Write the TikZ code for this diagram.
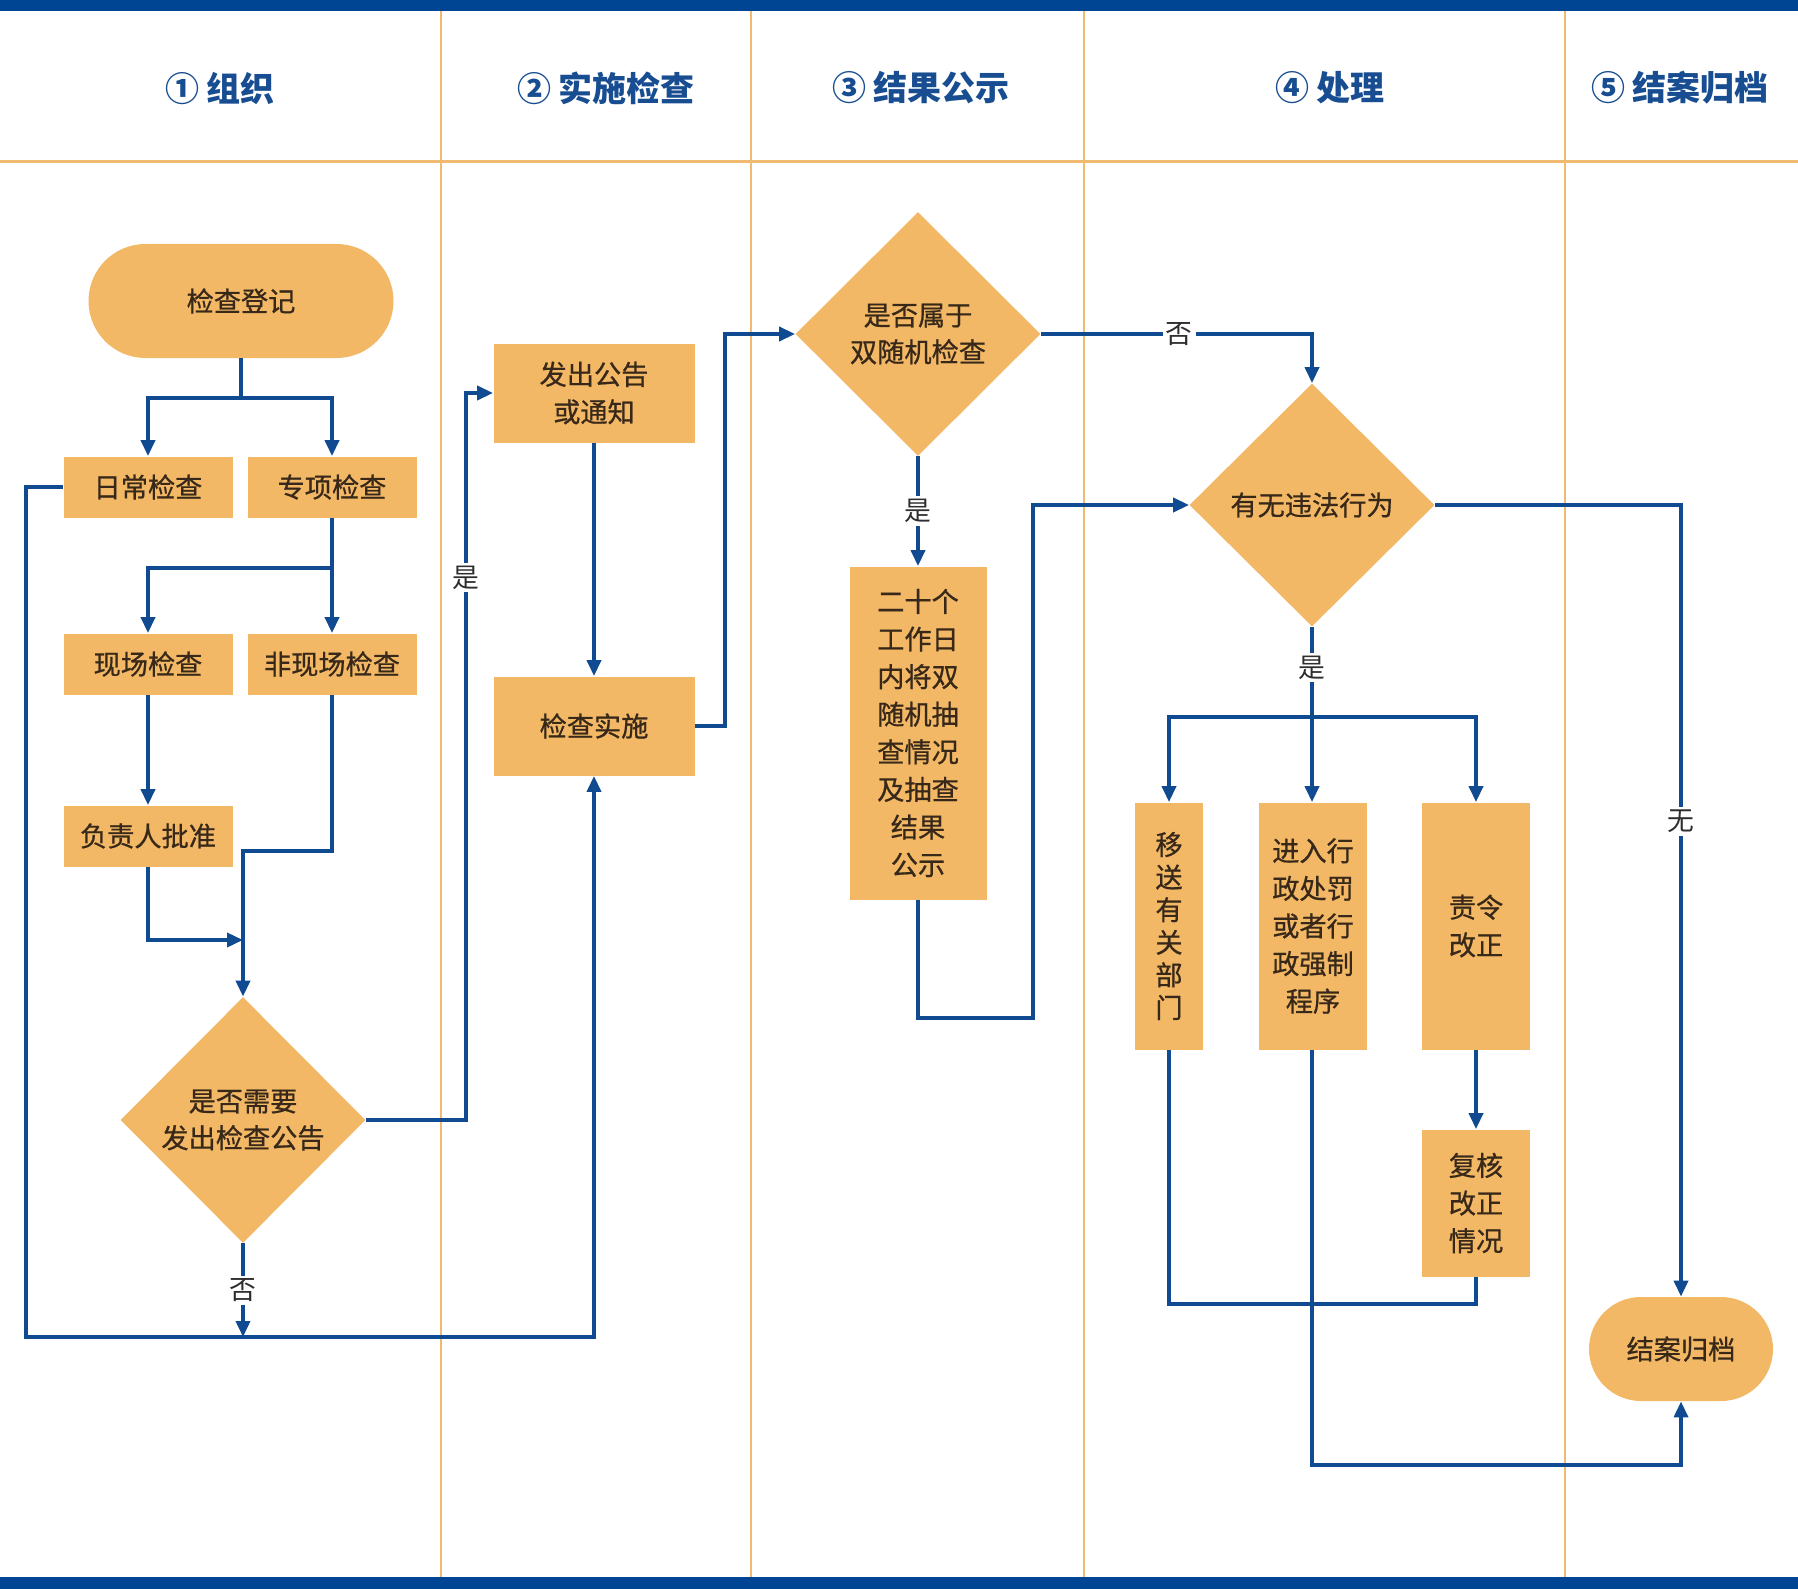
\documentclass[tikz,border=0pt]{standalone}
\usepackage{fontspec}
\newfontfamily\cjk{Noto Sans CJK SC}
\newfontfamily\cjkm[FakeBold=0.7]{Noto Sans CJK SC}
\usetikzlibrary{shapes.geometric,shapes.misc,arrows.meta}
\definecolor{boxfill}{RGB}{242,184,102}
\definecolor{flow}{RGB}{16,75,145}
\definecolor{lane}{RGB}{240,186,112}
\definecolor{bar}{RGB}{0,68,148}
\definecolor{headblue}{RGB}{24,78,145}
\definecolor{txt}{RGB}{55,40,25}
\definecolor{labtxt}{RGB}{45,45,45}
\tikzset{
  box/.style={rectangle,fill=boxfill,text=txt,inner sep=0pt,align=center,font=\cjkm\fontsize{13.6}{18.8}\selectfont},
  dia/.style={diamond,fill=boxfill,text=txt,inner sep=0pt,align=center,font=\cjkm\fontsize{13.6}{18.4}\selectfont},
  term/.style={rounded rectangle,fill=boxfill,text=txt,inner sep=0pt,align=center,font=\cjkm\fontsize{13.6}{18.4}\selectfont},
  conn/.style={draw=flow,line width=1.8pt},
  arr/.style={conn,-{Triangle[length=8pt,width=7pt]}},
  lab/.style={fill=white,text=labtxt,inner sep=1.5pt,font=\cjk\fontsize{13.4}{13.4}\selectfont},
  head/.style={text=headblue,font=\cjk\bfseries\fontsize{17}{17}\selectfont},
  lanes/.style={draw=lane,line width=1.1pt}
}
\begin{document}
\begin{tikzpicture}[x=0.5pt,y=-0.5pt]
\useasboundingbox (0,0) rectangle (1798,1589);
\fill[white] (0,0) rectangle (1798,1589);
% lanes
\foreach \xx in {441,751,1084,1565} \draw[lanes] (\xx,11) -- (\xx,1577);
\draw[draw=lane,line width=1.5pt] (0,162) -- (1798,162);
\fill[bar] (0,0) rectangle (1798,11);
\fill[bar] (0,1577) rectangle (1798,1589);
% headers
\node[head] (h1) at (220,88) {① 组织};
\node[head] (h2) at (606,88) {② 实施检查};
\node[head] (h3) at (921,88) {③ 结果公示};
\node[head] (h4) at (1330,88) {④ 处理};
\node[head] (h5) at (1680,88) {⑤ 结案归档};
% nodes
\node[term,minimum width=152.5pt,minimum height=57pt] (reg) at (241,301) {检查登记};
\node[box,minimum width=84.5pt,minimum height=30.5pt] (daily) at (148,487) {日常检查};
\node[box,minimum width=84.5pt,minimum height=30.5pt] (special) at (332,487) {专项检查};
\node[box,minimum width=84.5pt,minimum height=30.5pt] (onsite) at (148,664) {现场检查};
\node[box,minimum width=84.5pt,minimum height=30.5pt] (offsite) at (332,664) {非现场检查};
\node[box,minimum width=84.5pt,minimum height=30.5pt] (approve) at (148,836) {负责人批准};
\node[dia,minimum width=122.5pt,minimum height=123pt] (d1) at (243,1120) {是否需要\\发出检查公告};
\node[box,minimum width=100.5pt,minimum height=49.5pt] (notice) at (594,393) {发出公告\\或通知};
\node[box,minimum width=100.5pt,minimum height=49.5pt] (impl) at (594,726) {检查实施};
\node[dia,minimum width=122.5pt,minimum height=122pt] (d2) at (918,334) {是否属于\\双随机检查};
\node[box,minimum width=68.5pt,minimum height=166.5pt] (pub) at (918,733) {二十个\\工作日\\内将双\\随机抽\\查情况\\及抽查\\结果\\公示};
\node[dia,minimum width=122.5pt,minimum height=121.5pt] (d3) at (1312,505) {有无违法行为};
\node[box,minimum width=34pt,minimum height=123.5pt,font=\cjkm\fontsize{13.6}{16.3}\selectfont] (transfer) at (1169,926) {移\\送\\有\\关\\部\\门};
\node[box,minimum width=54pt,minimum height=123.5pt] (penalty) at (1313,926) {进入行\\政处罚\\或者行\\政强制\\程序};
\node[box,minimum width=54pt,minimum height=123.5pt] (order) at (1476,926) {责令\\改正};
\node[box,minimum width=54pt,minimum height=73.5pt] (review) at (1476,1203) {复核\\改正\\情况};
\node[term,minimum width=92pt,minimum height=52pt] (close) at (1681,1349) {结案归档};
% junctions
\coordinate (j1) at (241,398);
\coordinate (lb) at (26,1337);
\coordinate (j2) at (332,568);
\coordinate (j3) at (243,851);
\coordinate (j4) at (243,940);
\coordinate (j5) at (466,393);
\coordinate (j6) at (725,334);
\coordinate (j7) at (1033,1018);
\coordinate (j8) at (1312,717);
\coordinate (j9) at (1169,1304);
\coordinate (j10) at (1312,1465);
% connectors
\draw[conn] (reg.south) -- (j1);
\draw[arr] (j1) -| (daily.north);
\draw[arr] (j1) -| (special.north);
\draw[arr] (daily.west) -| (lb) -| (impl.south);
\draw[conn] (special.south) -- (j2);
\draw[arr] (j2) -| (onsite.north);
\draw[arr] (j2) -- (offsite.north);
\draw[arr] (onsite) -- (approve);
\draw[arr] (offsite.south) |- (j3) -- (d1.north);
\draw[arr] (approve.south) |- (j4);
\draw[arr] (d1.south) -- (d1.south |- lb) node[midway,lab] {否};
\draw[arr] (d1.east) -| (j5) node[pos=0.873,lab] {是} -- (notice.west);
\draw[arr] (notice) -- (impl);
\draw[arr] (impl.east) -| (j6) -- (d2.west);
\draw[arr] (d2.south) -- (pub.north) node[midway,lab] {是};
\draw[arr] (d2.east) -| (d3.north) node[pos=0.255,lab] {否};
\draw[arr] (pub.south) |- (j7) |- (d3.west);
\draw[conn] (d3.south) -- (j8) node[pos=0.45,lab] {是};
\draw[arr] (j8) -| (transfer.north);
\draw[arr] (j8) -- (j8 |- penalty.north);
\draw[arr] (j8) -| (order.north);
\draw[arr] (d3.east) -| (close.north) node[pos=0.70,lab] {无};
\draw[arr] (order) -- (review);
\draw[conn] (transfer.south) -- (j9) -| (review.south);
\draw[arr] (j8 |- penalty.south) -- (j10) -| (close.south);
\end{tikzpicture}
\end{document}
